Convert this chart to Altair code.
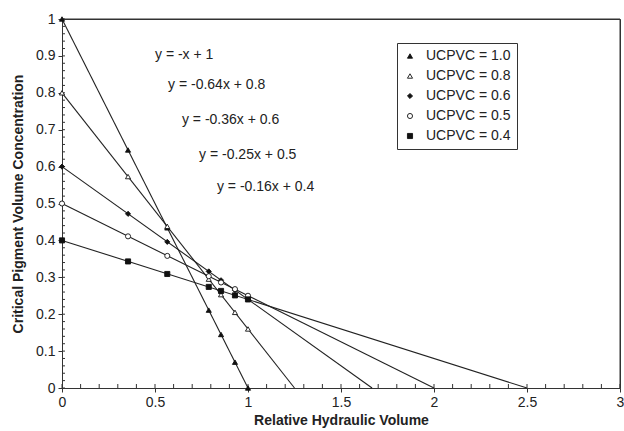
import altair as alt
import pandas as pd

labels = ["UCPVC = 1.0", "UCPVC = 0.8", "UCPVC = 0.6", "UCPVC = 0.5", "UCPVC = 0.4"]
x_points = [0.0, 0.355, 0.566, 0.789, 0.855, 0.93, 1.0]
y_10 = [1.0, 0.645, 0.434, 0.211, 0.145, 0.07, 0.0]
y_08 = [0.8, 0.573, 0.438, 0.295, 0.253, 0.205, 0.16]
y_06 = [0.6, 0.472, 0.396, 0.316, 0.292, 0.265, 0.24]
y_05 = [0.5, 0.411, 0.358, 0.303, 0.286, 0.268, 0.25]
y_04 = [0.4, 0.343, 0.309, 0.274, 0.263, 0.251, 0.24]
y_intercepts = [1.0, 0.8, 0.6, 0.5, 0.4]
x_intercepts = [1.0, 1.25, 1.667, 2.0, 2.5]
equations = ["y = -x + 1", "y = -0.64x + 0.8", "y = -0.36x + 0.6",
             "y = -0.25x + 0.5", "y = -0.16x + 0.4"]
eq_x = [0.5, 0.57, 0.645, 0.737, 0.833]
eq_y = [0.902, 0.821, 0.726, 0.631, 0.545]

x_major_ticks = [0, 0.5, 1, 1.5, 2, 2.5, 3]
y_major_ticks = [round(i * 0.1, 1) for i in range(11)]
x_minor_ticks = [round(i * 0.1, 1) for i in range(31)]
y_minor_ticks = [round(i * 0.02, 2) for i in range(51)]
X_MIN, X_MAX, Y_MIN, Y_MAX = 0, 3, 0, 1

shapes = ["triangle-up", "triangle-up", "diamond", "circle", "square"]
fills = ["#111111", "#ffffff", "#111111", "#ffffff", "#111111"]
strokes = ["#111111"] * 5

series_y = [y_10, y_08, y_06, y_05, y_04]
pts = pd.DataFrame([
    {"series": lab, "x": xv, "y": yv}
    for lab, ys in zip(labels, series_y)
    for xv, yv in zip(x_points, ys)
])
lines = pd.DataFrame(
    [{"series": lab, "x": 0.0, "y": b} for lab, b in zip(labels, y_intercepts)]
    + [{"series": lab, "x": xi, "y": 0.0} for lab, xi in zip(labels, x_intercepts)]
)
eqs = pd.DataFrame({"text": equations, "x": eq_x, "y": eq_y})

W, H = 558, 369
FONT = "Liberation Sans"
AX = "#333333"
# inward tick lengths expressed in data units (about 4 px and 3 px)
X_TICK_LEN = 4 / H * (Y_MAX - Y_MIN)
Y_TICK_LEN = 3 / W * (X_MAX - X_MIN)

xminor_df = pd.DataFrame({"v": x_minor_ticks, "a": Y_MIN, "b": Y_MIN + X_TICK_LEN})
yminor_df = pd.DataFrame({"v": y_minor_ticks, "a": X_MIN, "b": X_MIN + Y_TICK_LEN})
top_df = pd.DataFrame({"x": [X_MIN], "x2": [X_MAX], "y": [Y_MAX]})
right_df = pd.DataFrame({"x": [X_MAX], "y": [Y_MIN], "y2": [Y_MAX]})


def xs():
    return alt.Scale(domain=[X_MIN, X_MAX], nice=False, zero=False)


def ys():
    return alt.Scale(domain=[Y_MIN, Y_MAX], nice=False, zero=False)


x_major = alt.Axis(orient="bottom", values=x_major_ticks, tickSize=4, labelFontSize=14,
                   labelPadding=3, format="~g", title="Relative Hydraulic Volume",
                   titleFontSize=14, titleFontWeight="bold", titlePadding=4, grid=False,
                   domainColor=AX, tickColor=AX, labelColor="#222222",
                   titleColor="#222222", labelFont=FONT, titleFont=FONT, labelFlush=False)
y_major = alt.Axis(orient="left", values=y_major_ticks, tickSize=4, labelFontSize=14,
                   labelPadding=3, format="~g", title="Critical Pigment Volume Concentration",
                   titleFontSize=14, titleFontWeight="bold", titlePadding=10, grid=False,
                   domainColor=AX, tickColor=AX, labelColor="#222222",
                   titleColor="#222222", labelFont=FONT, titleFont=FONT, labelFlush=False)

line_layer = alt.Chart(lines).mark_line(color="#222222", strokeWidth=1.1).encode(
    x=alt.X("x:Q", scale=xs(), axis=x_major),
    y=alt.Y("y:Q", scale=ys(), axis=y_major),
    detail="series:N",
)

xminor_layer = alt.Chart(xminor_df).mark_rule(color=AX, strokeWidth=1).encode(
    x=alt.X("v:Q", scale=xs(), axis=None),
    y=alt.Y("a:Q", scale=ys(), axis=None),
    y2="b:Q",
)
yminor_layer = alt.Chart(yminor_df).mark_rule(color=AX, strokeWidth=1).encode(
    y=alt.Y("v:Q", scale=ys(), axis=None),
    x=alt.X("a:Q", scale=xs(), axis=None),
    x2="b:Q",
)
top_frame = alt.Chart(top_df).mark_rule(color=AX, strokeWidth=1).encode(
    x=alt.X("x:Q", scale=xs(), axis=None),
    x2="x2:Q",
    y=alt.Y("y:Q", scale=ys(), axis=None),
)
right_frame = alt.Chart(right_df).mark_rule(color=AX, strokeWidth=1).encode(
    x=alt.X("x:Q", scale=xs(), axis=None),
    y=alt.Y("y:Q", scale=ys(), axis=None),
    y2="y2:Q",
)


def leg():
    return alt.Legend(title=None, orient="none", legendX=335, legendY=24,
                      strokeColor=AX, padding=6, labelFontSize=14,
                      labelFont=FONT, labelColor="#222222", rowPadding=6,
                      symbolSize=26, labelOffset=9, symbolOffset=0,
                      symbolStrokeWidth=0.9)


point_layer = alt.Chart(pts).mark_point(filled=False, strokeWidth=0.9,
                                        size=26, opacity=1).encode(
    x=alt.X("x:Q", scale=xs(), axis=None),
    y=alt.Y("y:Q", scale=ys(), axis=None),
    shape=alt.Shape("series:N", scale=alt.Scale(domain=labels, range=shapes), legend=leg()),
    fill=alt.Fill("series:N", scale=alt.Scale(domain=labels, range=fills), legend=leg()),
    stroke=alt.Stroke("series:N", scale=alt.Scale(domain=labels, range=strokes), legend=leg()),
)

text_layer = alt.Chart(eqs).mark_text(align="left", baseline="middle", fontSize=14,
                                      font=FONT, color="#222222").encode(
    x=alt.X("x:Q", scale=xs(), axis=None),
    y=alt.Y("y:Q", scale=ys(), axis=None),
    text="text:N",
)

chart = alt.layer(line_layer, xminor_layer, yminor_layer, top_frame, right_frame,
                  point_layer, text_layer).resolve_scale(
    x="independent", y="independent"
).resolve_axis(
    x="independent", y="independent"
).properties(
    width=W, height=H,
    padding={"left": 62, "top": 19, "right": 4, "bottom": 43},
    autosize=alt.AutoSizeParams(type="none"),
    background="white",
).configure_view(stroke=AX, strokeWidth=1)

chart.save("out.html", embed_options={"renderer": "svg", "actions": False})
